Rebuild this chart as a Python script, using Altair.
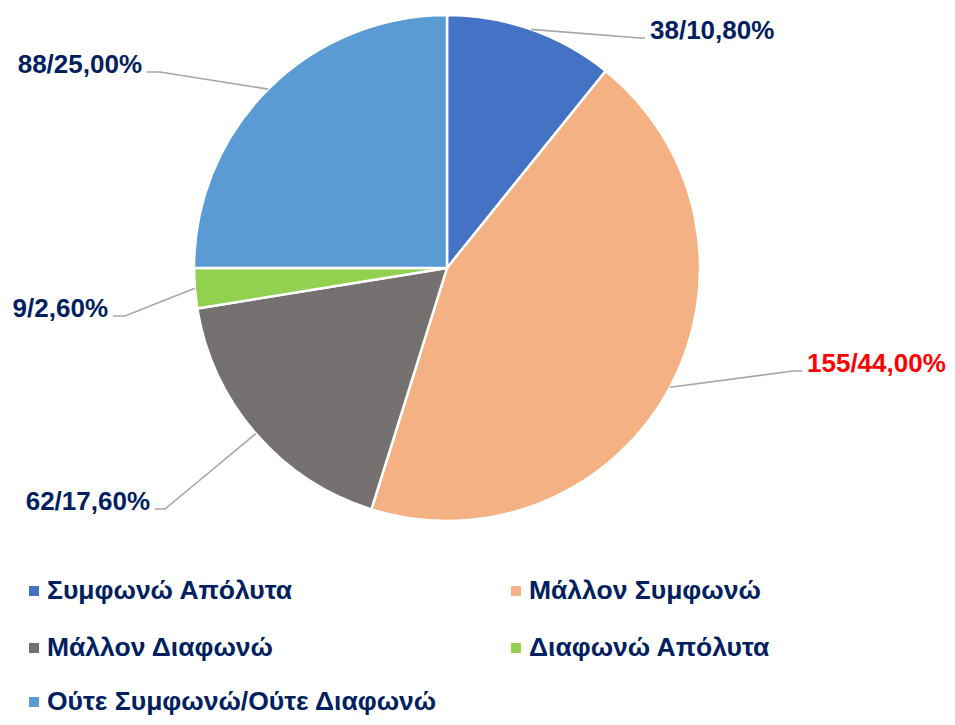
import math
import altair as alt
import pandas as pd

# ---- data ----
categories = [
    "Συμφωνώ Απόλυτα",
    "Μάλλον Συμφωνώ",
    "Μάλλον Διαφωνώ",
    "Διαφωνώ Απόλυτα",
    "Ούτε Συμφωνώ/Ούτε Διαφωνώ",
]
counts = [38, 155, 62, 9, 88]
percents = [10.80, 44.00, 17.60, 2.60, 25.00]

# ---- styles ----
colors = ["#4472C4", "#F4B183", "#767171", "#92D050", "#5B9BD5"]
NAVY = "#002060"
label_colors = [NAVY, "#FF0000", NAVY, NAVY, NAVY]
FONT = "Liberation Sans"

# ---- layout ----
W, H = 939, 709
CX, CY, R = 439, 260, 253
# leader-line elbow offsets from the pie centre (px) and horizontal tail lengths
elbows = [(193, -230), (346, 103), (-282, 241), (-322, 48), (-287, -196)]
tails = [5, 9, 10, 12, 13]
GAP = 5
# legend grid (2 columns), symbol centres and label offset
legend_col_x = [26, 508]
legend_row_y = [583, 640, 694]
LEG_TEXT_DX = 13

color_scale = alt.Scale(domain=categories, range=colors)

total = sum(counts)
pie_rows, line_rows, label_rows, legend_rows = [], [], [], []
cum = 0
for i, (c, n, p) in enumerate(zip(categories, counts, percents)):
    pie_rows.append(dict(cat=c, count=n, idx=i))
    mid = (cum + n / 2) / total * 2 * math.pi
    cum += n
    sx = CX + R * math.sin(mid)
    sy = CY - R * math.cos(mid)
    ex, ey = CX + elbows[i][0], CY + elbows[i][1]
    side = 1 if elbows[i][0] > 0 else -1
    tx = ex + side * tails[i]
    line_rows += [
        dict(cat=c, k=0, x=sx, y=sy),
        dict(cat=c, k=1, x=ex, y=ey),
        dict(cat=c, k=2, x=tx, y=ey),
    ]
    label = f"{n}/{p:.2f}%".replace(".", ",")
    label_rows.append(dict(cat=c, x=tx + side * GAP, y=ey + 1, text=label,
                           side="left" if side > 0 else "right",
                           color=label_colors[i]))
    lx = legend_col_x[i % 2]
    ly = legend_row_y[i // 2]
    legend_rows.append(dict(cat=c, x=lx, y=ly, tx=lx + LEG_TEXT_DX))

pie_df = pd.DataFrame(pie_rows)
line_df = pd.DataFrame(line_rows)
label_df = pd.DataFrame(label_rows)
legend_df = pd.DataFrame(legend_rows)

pie = alt.Chart(pie_df).mark_arc(outerRadius=R, stroke="white", strokeWidth=2.5).encode(
    theta=alt.Theta("count:Q", stack=True),
    color=alt.Color("cat:N", scale=color_scale, legend=None),
    order=alt.Order("idx:Q"),
    x=alt.value(CX),
    y=alt.value(CY),
)

lines = alt.Chart(line_df).mark_line(color="#A6A6A6", strokeWidth=1.6).encode(
    x=alt.X("x:Q", scale=None, axis=None),
    y=alt.Y("y:Q", scale=None, axis=None),
    detail="cat:N",
    order="k:Q",
)

def text_layer(side):
    return alt.Chart(label_df).transform_filter(
        alt.datum.side == side
    ).mark_text(
        align=side, baseline="alphabetic", font=FONT, fontSize=26, fontWeight="bold"
    ).encode(
        x=alt.X("x:Q", scale=None, axis=None),
        y=alt.Y("y:Q", scale=None, axis=None),
        text="text:N",
        fill=alt.Fill("color:N", scale=None),
    )

leg_sym = alt.Chart(legend_df).mark_square(size=100, opacity=1, filled=True).encode(
    x=alt.X("x:Q", scale=None, axis=None),
    y=alt.Y("y:Q", scale=None, axis=None),
    color=alt.Color("cat:N", scale=color_scale, legend=None),
)

leg_txt = alt.Chart(legend_df).mark_text(
    align="left", baseline="middle", font=FONT, fontSize=26.5, fontWeight="bold", color=NAVY
).encode(
    x=alt.X("tx:Q", scale=None, axis=None),
    y=alt.Y("y:Q", scale=None, axis=None),
    text="cat:N",
)

chart = alt.layer(
    pie, lines, text_layer("left"), text_layer("right"), leg_sym, leg_txt
).properties(
    width=W, height=H, padding=0, autosize=alt.AutoSizeParams(type="none")
).configure_view(strokeWidth=0)

chart.save("out.html", embed_options={"renderer": "svg", "actions": False})
